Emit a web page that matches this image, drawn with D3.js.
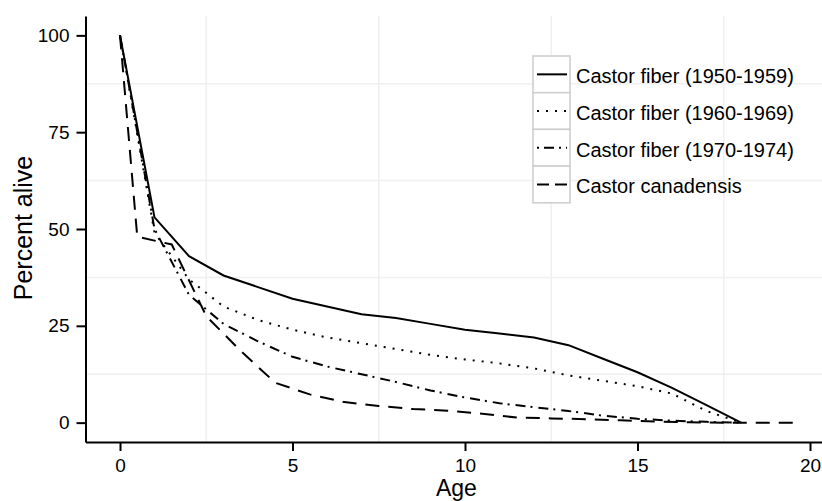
<!DOCTYPE html>
<html>
<head>
<meta charset="utf-8">
<script src="https://cdn.jsdelivr.net/npm/d3@7/dist/d3.min.js"></script>
<style>
  body { margin: 0; background: #fff; }
  svg text { font-family: "Liberation Sans", Arial, sans-serif; fill: #000; }
</style>
</head>
<body>
<svg id="chart" width="822" height="501"></svg>
<script>
// survival curves, percent alive by age
var fiberAges = [0, 1, 2, 3, 4, 5, 6, 7, 8, 9, 10, 11, 12, 13, 14, 15, 16, 17, 18];
var fiber1950 = [100, 53, 43, 38, 35, 32, 30, 28, 27, 25.5, 24, 23, 22, 20, 16.5, 13, 9, 4.5, 0];
var fiber1960 = [100, 49, 37, 30, 26.5, 24, 22, 20.5, 19, 17.5, 16.3, 15.3, 14, 12.2, 10.8, 9.4, 7.5, 3, 0];
var fiber1970 = [100, 50, 33, 25.5, 21, 17, 14.5, 12.5, 10.5, 8.3, 6.5, 5, 4, 3, 1.8, 1, 0.5, 0.2, 0];
var canAges = [0, 0.5, 1.5, 2.5, 3.5, 4.5, 5.5, 6.5, 7.5, 8.5, 9.5, 10.5, 11.5, 12.5, 13.5, 14.5, 15.5, 16.5, 17.5, 18.5, 19.5];
var canadensis = [100, 48, 46, 27.5, 18.5, 10.3, 7.3, 5.3, 4.3, 3.5, 3.1, 2.3, 1.3, 1.1, 0.9, 0.6, 0.3, 0.1, 0, 0, 0];

var seriesNames = ["Castor fiber (1950-1959)", "Castor fiber (1960-1969)", "Castor fiber (1970-1974)", "Castor canadensis"];
var xTicks = [0, 5, 10, 15, 20];
var yTicks = [0, 25, 50, 75, 100];
var xGrid = [2.5, 7.5, 12.5, 17.5];
var yGrid = [12.5, 37.5, 62.5, 87.5];

var series = [
  { name: seriesNames[0], ages: fiberAges, vals: fiber1950, dash: null },
  { name: seriesNames[1], ages: fiberAges, vals: fiber1960, dash: "2,7" },
  { name: seriesNames[2], ages: fiberAges, vals: fiber1970, dash: "10,5,2,6" },
  { name: seriesNames[3], ages: canAges, vals: canadensis, dash: "14,9" }
];

var svg = d3.select("#chart");

var x = d3.scaleLinear().domain([-1, 20.5]).range([85.5, 827.25]);
var y = d3.scaleLinear().domain([-5, 105]).range([442, 16]);

// faint grid
var grid = svg.append("g").attr("class", "grid")
  .attr("stroke", "#f0f0f0").attr("stroke-width", 1.5);
grid.selectAll(".gx").data(xGrid).enter().append("line")
  .attr("x1", function (d) { return x(d); }).attr("x2", function (d) { return x(d); })
  .attr("y1", y(105)).attr("y2", y(-5));
grid.selectAll(".gy").data(yGrid).enter().append("line")
  .attr("x1", x(-1)).attr("x2", x(20.5))
  .attr("y1", function (d) { return y(d); }).attr("y2", function (d) { return y(d); });

// lines
var line = d3.line()
  .x(function (d) { return x(d[0]); })
  .y(function (d) { return y(d[1]); });

svg.append("g").selectAll("path").data(series).enter().append("path")
  .attr("d", function (s) { return line(d3.zip(s.ages, s.vals)); })
  .attr("fill", "none")
  .attr("stroke", "#000")
  .attr("stroke-width", 2)
  .attr("stroke-dasharray", function (s) { return s.dash; });

// axes
var xAxis = svg.append("g")
  .attr("transform", "translate(0," + y(-5) + ")")
  .call(d3.axisBottom(x).tickValues(xTicks).tickSize(9).tickSizeOuter(0).tickPadding(8));
var yAxis = svg.append("g")
  .attr("transform", "translate(" + x(-1) + ",0)")
  .call(d3.axisLeft(y).tickValues(yTicks).tickSize(9).tickSizeOuter(0).tickPadding(7));

[xAxis, yAxis].forEach(function (a) {
  a.select(".domain").attr("stroke", "#000").attr("stroke-width", 2);
  a.selectAll(".tick line").attr("stroke", "#000").attr("stroke-width", 2);
  a.selectAll(".tick text").style("font-size", "19px").attr("fill", "#000");
});

svg.append("text")
  .attr("x", (x(-1) + x(20.5)) / 2).attr("y", 496)
  .attr("text-anchor", "middle")
  .style("font-size", "23px")
  .text("Age");

svg.append("text")
  .attr("transform", "translate(32," + 228 + ") rotate(-90)")
  .attr("text-anchor", "middle")
  .style("font-size", "25px")
  .text("Percent alive");

// legend
var rowH = 36.7;
var legend = svg.append("g").attr("transform", "translate(533,56)");
var rows = legend.selectAll("g").data(series).enter().append("g")
  .attr("transform", function (d, i) { return "translate(0," + (i * rowH) + ")"; });
rows.append("rect")
  .attr("width", 37).attr("height", rowH)
  .attr("fill", "#fff").attr("stroke", "#cccccc").attr("stroke-width", 1.5);
rows.append("line")
  .attr("x1", 4).attr("x2", 34)
  .attr("y1", rowH / 2).attr("y2", rowH / 2)
  .attr("stroke", "#000").attr("stroke-width", 2)
  .attr("stroke-dasharray", function (d) {
    return d.dash === "14,9" ? "12,6" : d.dash === "10,5,2,6" ? "2,5,10,5" : d.dash;
  });
rows.append("text")
  .attr("x", 43).attr("y", 27.3)
  .style("font-size", "20px")
  .text(function (d) { return d.name; });
</script>
</body>
</html>
